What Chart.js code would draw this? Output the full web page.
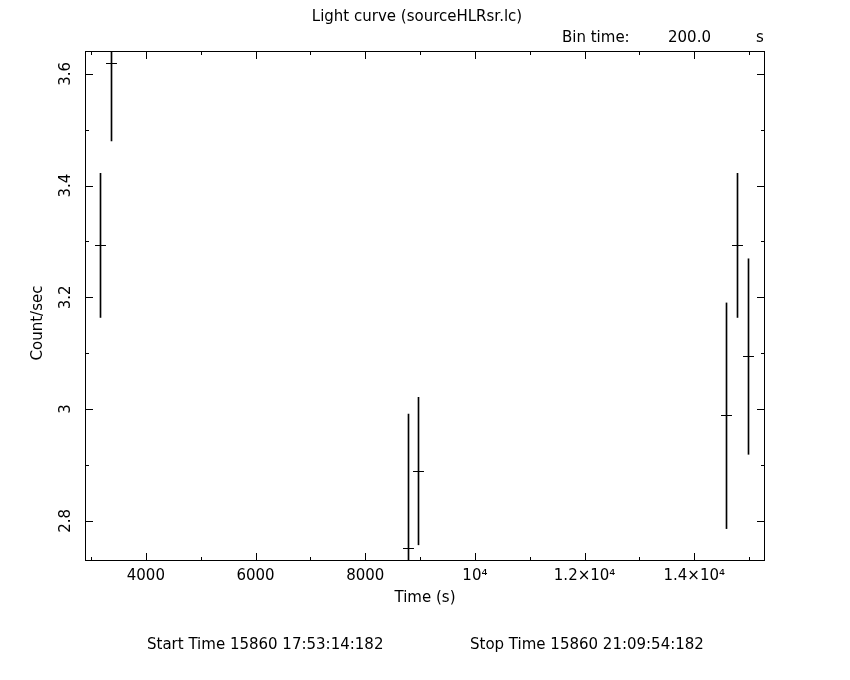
<!DOCTYPE html>
<html>
<head>
<meta charset="utf-8">
<script src="https://cdn.jsdelivr.net/npm/chart.js@4/dist/chart.umd.min.js"></script>
<style>
  html, body { margin: 0; padding: 0; background: #fff; }
  #wrap { width: 850px; height: 680px; position: relative; }
</style>
</head>
<body>
<div id="wrap"><canvas id="lc"></canvas></div>
<script>
// light curve bins (s) and rates
const timeBins = [3180, 3380, 8780, 8980, 14580, 14780, 14980];
const countRate = [3.293, 3.619, 2.750, 2.889, 2.988, 3.293, 3.094];
const rateError = [0.129, 0.139, 0.241, 0.132, 0.202, 0.129, 0.175];
const binTime = 200;

const xMajorTicks = [4000, 6000, 8000, 10000, 12000, 14000];
const xTickLabels = ["4000", "6000", "8000", "10⁴", "1.2×10⁴", "1.4×10⁴"];
const xMinorTicks = [3000, 5000, 7000, 9000, 11000, 13000, 15000];
const yMajorTicks = [2.8, 3.0, 3.2, 3.4, 3.6];
const yTickLabels = ["2.8", "3", "3.2", "3.4", "3.6"];
const yMinorTicks = [2.9, 3.1, 3.3, 3.5];

const plotTitle = "Light curve (sourceHLRsr.lc)";
const binLabel = ["Bin time:", "200.0", "s"];
const startText = "Start Time 15860 17:53:14:182";
const stopText = "Stop Time 15860 21:09:54:182";

const FAMILY = "'DejaVu Sans', sans-serif";
const FONT = "15px " + FAMILY;

// inward tick marks + frame
const frameTicks = {
    id: "frameTicks",
    afterDraw(chart) {
        const { ctx, chartArea: a, scales: { x, y } } = chart;
        ctx.save();
        ctx.strokeStyle = "#000";
        ctx.lineWidth = 1;
        ctx.strokeRect(a.left + 0.5, a.top + 0.5, a.right - a.left - 1, a.bottom - a.top - 1);
        ctx.beginPath();
        const xt = (v, len) => {
            const px = Math.round(x.getPixelForValue(v)) + 0.5;
            ctx.moveTo(px, a.bottom); ctx.lineTo(px, a.bottom - len);
            ctx.moveTo(px, a.top); ctx.lineTo(px, a.top + len);
        };
        const yt = (v, len) => {
            const py = Math.round(y.getPixelForValue(v)) + 0.5;
            ctx.moveTo(a.left, py); ctx.lineTo(a.left + len, py);
            ctx.moveTo(a.right, py); ctx.lineTo(a.right - len, py);
        };
        xMajorTicks.forEach(v => xt(v, 8));
        xMinorTicks.forEach(v => xt(v, 4));
        yMajorTicks.forEach(v => yt(v, 8));
        yMinorTicks.forEach(v => yt(v, 4));
        ctx.stroke();
        ctx.restore();
    }
};

// snap the error bar elements to whole pixels so they stay 1px black
const snapPixels = {
    id: "snapPixels",
    afterDatasetsUpdate(chart) {
        chart.getDatasetMeta(0).data.forEach(el => { el.x = Math.floor(el.x) + 0.5; });
        chart.getDatasetMeta(1).data.forEach(el => { el.x = Math.floor(el.x) + 0.5; el.y = Math.floor(el.y) + 0.5; });
    }
};

const pageText = {
    id: "pageText",
    afterDraw(chart) {
        const ctx = chart.ctx;
        ctx.save();
        ctx.fillStyle = "#000";
        ctx.font = FONT;
        ctx.textBaseline = "middle";
        ctx.textAlign = "center";
        ctx.fillText(plotTitle, 417, 17);
        ctx.textAlign = "left";
        ctx.fillText(binLabel[0], 562, 38);
        ctx.fillText(binLabel[1], 668, 38);
        ctx.fillText(binLabel[2], 756, 38);
        ctx.fillText(startText, 147, 645);
        ctx.fillText(stopText, 470, 645);
        ctx.translate(38, 323);
        ctx.rotate(-Math.PI / 2);
        ctx.textAlign = "center";
        ctx.fillText("Count/sec", 0, 0);
        ctx.restore();
    }
};

new Chart(document.getElementById("lc"), {
    type: "scatter",
    data: {
        datasets: [
            {
                type: "bar",
                data: timeBins.map((t, i) => ({ x: t, y: [countRate[i] - rateError[i], countRate[i] + rateError[i]] })),
                backgroundColor: "#000",
                borderWidth: 0,
                barThickness: 1,
                clip: 0
            },
            {
                type: "scatter",
                data: timeBins.map((t, i) => ({ x: t, y: countRate[i] })),
                pointStyle: "line",
                pointRadius: ctx => {
                    const s = ctx.chart.scales.x;
                    return Math.abs(s.getPixelForValue(binTime / 2) - s.getPixelForValue(0));
                },
                borderColor: "#000",
                borderWidth: 1,
                showLine: false
            }
        ]
    },
    options: {
        responsive: true,
        maintainAspectRatio: false,
        animation: false,
        layout: { padding: { top: 51, right: 85, left: 0, bottom: 0 } },
        plugins: { legend: { display: false }, tooltip: { enabled: false } },
        scales: {
            x: {
                type: "linear",
                min: 2890,
                max: 15290,
                offset: false,
                afterBuildTicks: s => { s.ticks = xMajorTicks.map(v => ({ value: v })); },
                afterFit: s => { s.height = 119; },
                grid: { display: false, drawTicks: false },
                border: { display: false },
                ticks: {
                    autoSkip: false,
                    maxRotation: 0,
                    padding: 6,
                    color: "#000",
                    font: { family: FAMILY, size: 15 },
                    callback: v => xTickLabels[xMajorTicks.indexOf(v)]
                },
                title: {
                    display: true,
                    text: "Time (s)",
                    color: "#000",
                    font: { family: FAMILY, size: 15 },
                    padding: { top: 0, bottom: 73 }
                }
            },
            y: {
                type: "linear",
                min: 2.728,
                max: 3.641,
                beginAtZero: false,
                afterBuildTicks: s => { s.ticks = yMajorTicks.map(v => ({ value: v })); },
                afterFit: s => { s.width = 85; },
                grid: { display: false, drawTicks: false },
                border: { display: false },
                ticks: {
                    minRotation: 90,
                    maxRotation: 90,
                    crossAlign: "center",
                    padding: 7,
                    color: "#000",
                    font: { family: FAMILY, size: 15 },
                    callback: v => yTickLabels[yMajorTicks.findIndex(t => Math.abs(t - v) < 1e-6)]
                }
            }
        }
    },
    plugins: [snapPixels, frameTicks, pageText]
});
</script>
</body>
</html>
